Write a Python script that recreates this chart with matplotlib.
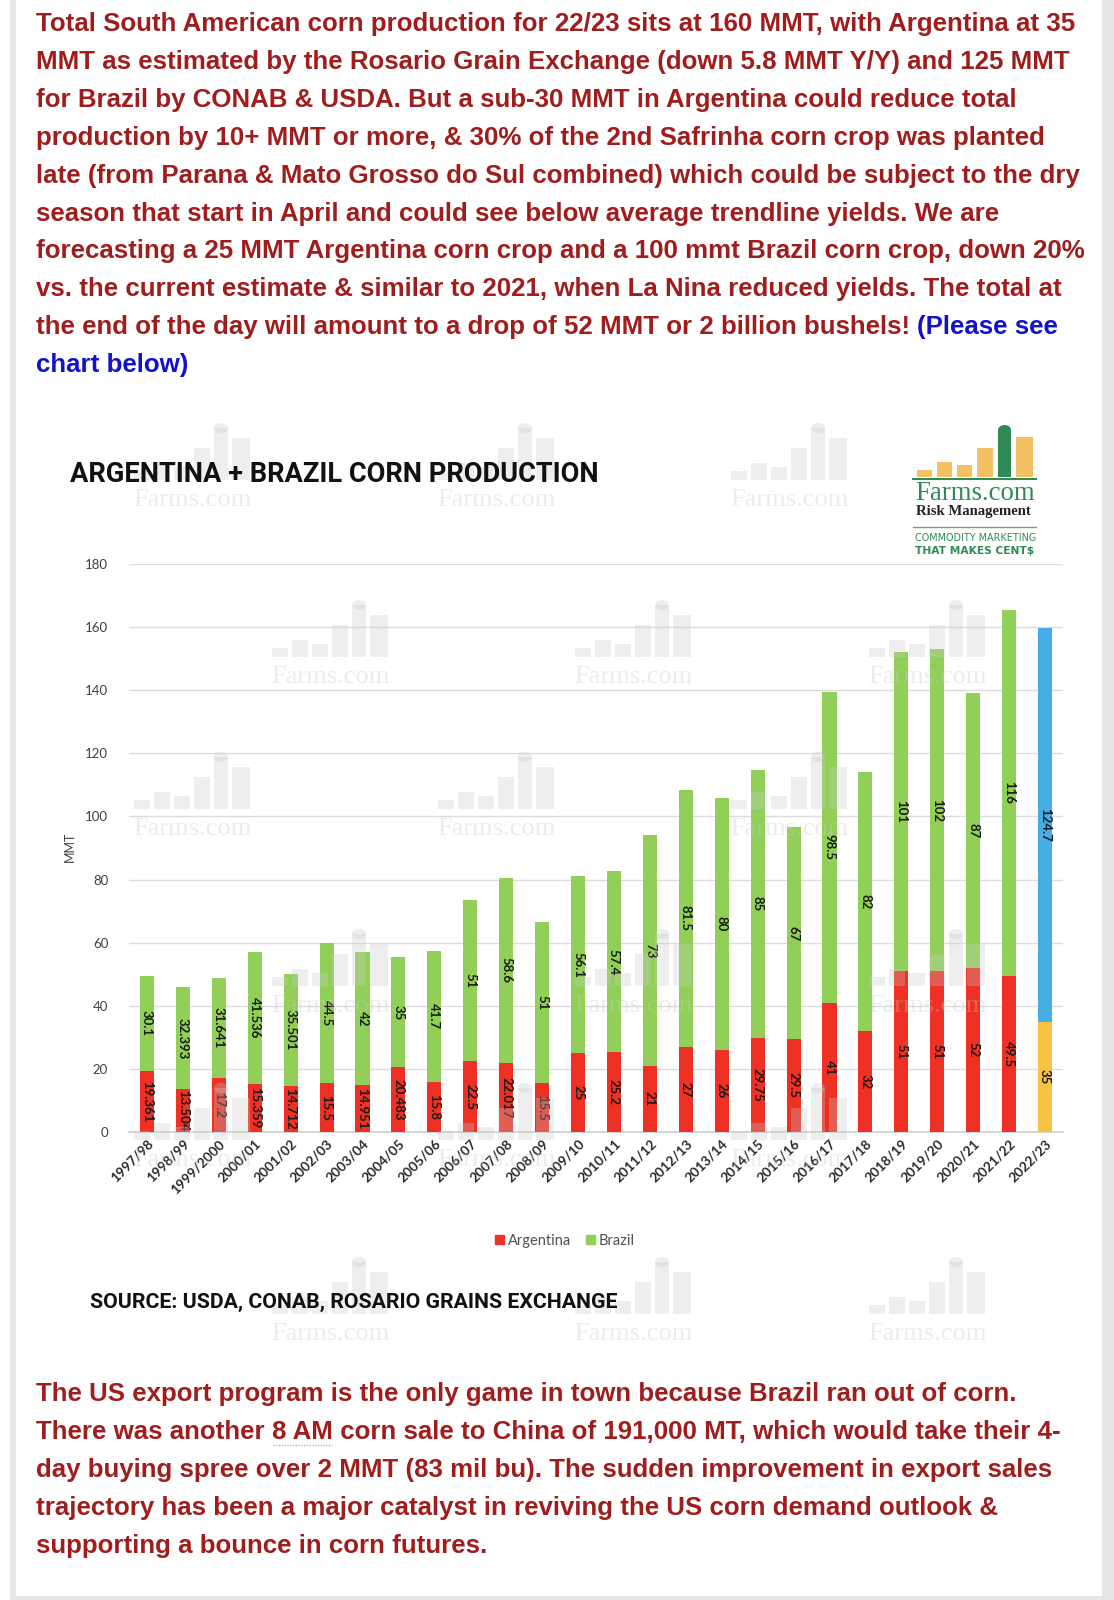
import matplotlib
matplotlib.use('Agg')
import matplotlib.pyplot as plt
from matplotlib.patches import Rectangle, Patch, Ellipse
import numpy as np

# ---------------- data ----------------
seasons = ['1997/98', '1998/99', '1999/2000', '2000/01', '2001/02', '2002/03', '2003/04',
           '2004/05', '2005/06', '2006/07', '2007/08', '2008/09', '2009/10', '2010/11',
           '2011/12', '2012/13', '2013/14', '2014/15', '2015/16', '2016/17', '2017/18',
           '2018/19', '2019/20', '2020/21', '2021/22', '2022/23']
argentina = [19.361, 13.504, 17.2, 15.359, 14.712, 15.5, 14.951, 20.483, 15.8, 22.5,
             22.017, 15.5, 25, 25.2, 21, 27, 26, 29.75, 29.5, 41, 32, 51, 51, 52, 49.5, 35]
brazil = [30.1, 32.393, 31.641, 41.536, 35.501, 44.5, 42, 35, 41.7, 51, 58.6, 51, 56.1,
          57.4, 73, 81.5, 80, 85, 67, 98.5, 82, 101, 102, 87, 116, 124.7]
yticks = [0, 20, 40, 60, 80, 100, 120, 140, 160, 180]
series_names = ['Argentina', 'Brazil']

top_lines = [
    "Total South American corn production for 22/23 sits at 160 MMT, with Argentina at 35",
    "MMT as estimated by the Rosario Grain Exchange (down 5.8 MMT Y/Y) and 125 MMT",
    "for Brazil by CONAB & USDA. But a sub-30 MMT in Argentina could reduce total",
    "production by 10+ MMT or more, & 30% of the 2nd Safrinha corn crop was planted",
    "late (from Parana & Mato Grosso do Sul combined) which could be subject to the dry",
    "season that start in April and could see below average trendline yields. We are",
    "forecasting a 25 MMT Argentina corn crop and a 100 mmt Brazil corn crop, down 20%",
    "vs. the current estimate & similar to 2021, when La Nina reduced yields. The total at",
    "the end of the day will amount to a drop of 52 MMT or 2 billion bushels! ",
]
blue_1 = "(Please see"
blue_2 = "chart below)"
bottom_lines = [
    "The US export program is the only game in town because Brazil ran out of corn.",
    None,
    "day buying spree over 2 MMT (83 mil bu). The sudden improvement in export sales",
    "trajectory has been a major catalyst in reviving the US corn demand outlook &",
    "supporting a bounce in corn futures.",
]
line2_parts = ["There was another ", "8 AM", " corn sale to China of 191,000 MT, which would take their 4-"]

# ---------------- style ----------------
RED = '#ee3124'
GREEN = '#92cf58'
YELLOW = '#f6c244'
BLUE = '#45aee6'
TXT_RED = '#a01d1d'
TXT_BLUE = '#1212c8'
WM = '#c9c9c9'

W, H = 1114, 1600
fig = plt.figure(figsize=(W / 100, H / 100), dpi=100)
fig.patch.set_facecolor('white')
renderer = fig.canvas.get_renderer()

bg = fig.add_axes([0, 0, 1, 1], zorder=0)
bg.set_xlim(0, W); bg.set_ylim(H, 0); bg.axis('off')
bg.add_patch(Rectangle((10, 0), 6, H, color='#e6e6e6', lw=0))
bg.add_patch(Rectangle((1102, 0), 12, H, color='#e6e6e6', lw=0))
bg.add_patch(Rectangle((16, 1596), 1086, 4, color='#e6e6e6', lw=0))

# ---------------- chart ----------------
ax = fig.add_axes([129 / W, (H - 1132) / H, (1063 - 129) / W, (1132 - 564) / H], zorder=1)
x = np.arange(len(seasons))
arg_cols = [RED] * (len(seasons) - 1) + [YELLOW]
bra_cols = [GREEN] * (len(seasons) - 1) + [BLUE]
ax.bar(x, argentina, width=0.39, color=arg_cols, zorder=3)
ax.bar(x, brazil, width=0.39, bottom=argentina, color=bra_cols, zorder=3)
ax.set_xlim(-0.5, len(seasons) - 0.5)
ax.set_ylim(0, 180)
ax.set_yticks(yticks)
ax.set_yticklabels([str(v) for v in yticks], fontsize=9.5, color='#404040', family='Lato')
ax.yaxis.grid(True, color='#dcdcdc', lw=1, zorder=0)
ax.set_axisbelow(True)
for s in ax.spines.values():
    s.set_visible(False)
ax.tick_params(axis='both', length=0)
ax.tick_params(axis='y', pad=15)
ax.tick_params(axis='x', pad=4)
ax.set_xticks(x)
ax.set_xticklabels(seasons, rotation=45, ha='right', rotation_mode='anchor',
                   fontsize=9.8, color='#2a2a2a', family='Lato', fontweight='bold')
ax.axhline(0, color='#d0d0d0', lw=1.2, zorder=2, clip_on=False)

for i in range(len(seasons)):
    a, b = argentina[i], brazil[i]
    ax.text(i, a / 2, f"{a:g}", rotation=270, ha='center', va='center', fontsize=9.5,
            color='#1a1a1a', family='Lato', fontweight='bold', zorder=4)
    ax.text(i, a + b / 2, f"{b:g}", rotation=270, ha='center', va='center', fontsize=9.5,
            color='#1a1a1a', family='Lato', fontweight='bold', zorder=4)

handles = [Patch(color=RED, label=series_names[0]), Patch(color=GREEN, label=series_names[1])]
leg = fig.legend(handles=handles, loc='center', bbox_to_anchor=(565 / W, 1 - 1241 / H), ncol=2,
                 frameon=False, handlelength=0.6, handleheight=0.6,
                 handletextpad=0.3, columnspacing=1.0, prop={'family': 'Lato', 'size': 10.5})
for t in leg.get_texts():
    t.set_color('#505050')

# ---------------- overlay ----------------
ov = fig.add_axes([0, 0, 1, 1], zorder=3)
ov.set_xlim(0, W); ov.set_ylim(H, 0); ov.axis('off')
ov.patch.set_alpha(0)


def fit(t, width):
    bb = t.get_window_extent(renderer)
    t.set_fontsize(t.get_fontsize() * width / bb.width)
    return t


def watermark(cx, cy):
    base = cy - 20
    bars = [(-60, -44, 9), (-40, -24, 17), (-20, -4, 13), (0, 16, 32), (20, 34, 52), (38, 56, 42)]
    for (x0, x1, h) in bars:
        ov.add_patch(Rectangle((cx + x0, base - h), x1 - x0, h, color=WM, alpha=0.3, lw=0))
    ov.add_patch(Ellipse((cx + 27, base - 52), 14, 10, color=WM, alpha=0.3, lw=0))
    t = ov.text(cx - 2, cy, 'Farms.com', family='Liberation Serif', fontsize=18, color=WM,
                alpha=0.35, ha='center', va='center')
    fit(t, 118)


for yy, xs in [(500, [194, 498, 791]), (677, [332, 635, 929]), (829, [194, 498, 791]),
               (1006, [332, 635, 929]), (1160, [194, 498, 791]), (1334, [332, 635, 929])]:
    for xx in xs:
        watermark(xx, yy)

# logo box
ov.add_patch(Rectangle((898, 418), 165, 146, color='white', lw=0))
LY = '#f3c163'
LG = '#2f8a55'
for (x0, x1, top) in [(917, 932, 470), (937, 952, 462), (957, 972, 465), (977, 993, 448), (1016, 1033, 437)]:
    ov.add_patch(Rectangle((x0, top), x1 - x0, 477 - top, color=LY, lw=0))
ov.add_patch(Rectangle((998, 430), 13, 47, color=LG, lw=0))
ov.add_patch(Ellipse((1004.5, 430), 13, 10, color=LG, lw=0))
ov.plot([913, 1036], [478.5, 478.5], color=LG, lw=1.5)
t = ov.text(915, 493, 'Farms.com', family='Liberation Serif', fontsize=18, color=LG,
            ha='left', va='center')
fit(t, 120)
t = ov.text(916, 512, 'Risk Management', family='Liberation Serif', fontsize=7, color='#222222',
            ha='left', va='center', fontweight='bold')
fit(t, 116)
ov.plot([913, 1036], [527, 527], color='#6aa57f', lw=1)
t = ov.text(915, 538, 'COMMODITY MARKETING', family='DejaVu Sans', fontsize=5, color=LG,
            ha='left', va='center')
fit(t, 120)
t = ov.text(915, 551, 'THAT MAKES CENT$', family='DejaVu Sans', fontsize=5, color=LG,
            ha='left', va='center', fontweight='bold')
fit(t, 120)

# chart title / source / axis label
t = ov.text(70, 475, 'ARGENTINA + BRAZIL CORN PRODUCTION', family=['Liberation Sans Narrow', 'Roboto'],
            fontweight='bold', fontsize=20, color='#111111', ha='left', va='center')
fit(t, 527)
t = ov.text(90, 1302, 'SOURCE: USDA, CONAB, ROSARIO GRAINS EXCHANGE', family=['Liberation Sans Narrow', 'Roboto'],
            fontweight='bold', fontsize=17, color='#111111', ha='left', va='center')
fit(t, 528)
ov.text(70, 847, 'MMT', family='Lato', fontsize=9, color='#404040', rotation=90,
        ha='center', va='center')

# ---------------- paragraphs ----------------
X0 = 36
probe = ov.text(X0, 24, top_lines[0], family='Liberation Sans', fontweight='bold', fontsize=16,
                color=TXT_RED, ha='left', va='center')
fit(probe, 1036)
FS = probe.get_fontsize()
STEP = 37.9
last = None
for k, line in enumerate(top_lines):
    if k == 0:
        last = probe
        continue
    last = ov.text(X0, 24 + k * STEP, line, family='Liberation Sans', fontweight='bold', fontsize=FS,
                   color=TXT_RED, ha='left', va='center')


def px_right(textobj):
    bb = textobj.get_window_extent(renderer)
    inv = ov.transData.inverted()
    return inv.transform((bb.x1, bb.y0))[0]


xr = px_right(last)
ov.text(xr, 24 + 8 * STEP, blue_1, family='Liberation Sans', fontweight='bold', fontsize=FS,
        color=TXT_BLUE, ha='left', va='center')
ov.text(X0, 24 + 9 * STEP, blue_2, family='Liberation Sans', fontweight='bold', fontsize=FS,
        color=TXT_BLUE, ha='left', va='center')

BY = 1394.5
for k, line in enumerate(bottom_lines):
    yy = BY + k * STEP
    if line is not None:
        ov.text(X0, yy, line, family='Liberation Sans', fontweight='bold', fontsize=FS,
                color=TXT_RED, ha='left', va='center')
    else:
        xx = X0
        for j, part in enumerate(line2_parts):
            tt = ov.text(xx, yy, part, family='Liberation Sans', fontweight='bold', fontsize=FS,
                         color=TXT_RED, ha='left', va='center')
            xn = px_right(tt)
            if j == 1:
                ov.plot([xx + 1, xn - 1], [yy + 13, yy + 13], color='#b0b0b0', lw=1, ls=(0, (1, 1)))
            xx = xn

fig.savefig('out.png', dpi=100, facecolor='white')
